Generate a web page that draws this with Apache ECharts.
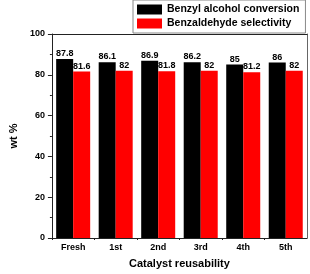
<!DOCTYPE html>
<html>
<head>
<meta charset="utf-8">
<script src="https://cdn.jsdelivr.net/npm/echarts@6/dist/echarts.min.js"></script>
<style>html,body{margin:0;padding:0;background:#fff;}#c{width:310px;height:274px;}</style>
</head>
<body>
<div id="c"></div>
<script>
const categories = ['Fresh', '1st', '2nd', '3rd', '4th', '5th'];
const conversion = [87.8, 86.1, 86.9, 86.2, 85, 86];
const selectivity = [81.6, 82, 81.8, 82, 81.2, 82];
const seriesNames = ['Benzyl alcohol conversion', 'Benzaldehyde selectivity'];
const yTicks = [0, 20, 40, 60, 80, 100];

const FONT = '"Liberation Sans", Arial, sans-serif';
const AXC = '#222';
const chart = echarts.init(document.getElementById('c'), null, {renderer: 'canvas'});
const labelStyle = {show: true, position: 'top', distance: 1, color: '#000', fontSize: 9, fontWeight: 'bold', fontFamily: FONT};
chart.setOption({
  animation: false,
  backgroundColor: '#fff',
  grid: {left: 32, right: 3, top: 34, bottom: 34},
  legend: {
    orient: 'vertical', left: 133, top: 0,
    padding: [4, 6, 4, 4], itemGap: 3, itemWidth: 25, itemHeight: 10, itemTextGap: 3,
    borderColor: '#888', borderWidth: 1, backgroundColor: '#fff',
    icon: 'rect',
    textStyle: {fontSize: 10.5, fontWeight: 'bold', fontFamily: FONT, color: '#000', lineHeight: 10},
    data: seriesNames
  },
  xAxis: [
    {
      type: 'category', data: categories, position: 'bottom',
      axisLine: {lineStyle: {color: AXC, width: 1}},
      axisTick: {alignWithLabel: true, length: 4, lineStyle: {color: AXC}},
      axisLabel: {fontSize: 9, fontWeight: 'bold', fontFamily: FONT, color: '#000', margin: 5},
      name: 'Catalyst reusability', nameLocation: 'middle', nameGap: 20,
      nameTextStyle: {fontSize: 11, fontWeight: 'bold', fontFamily: FONT, color: '#000'}
    },
    {
      type: 'category', data: categories, position: 'bottom',
      axisLine: {show: false},
      axisTick: {show: true, length: 2, lineStyle: {color: AXC}},
      axisLabel: {show: false}
    },
    {
      type: 'category', data: categories, position: 'top',
      axisLine: {show: true, lineStyle: {color: AXC, width: 1}},
      axisTick: {show: false}, axisLabel: {show: false}
    }
  ],
  yAxis: [
    {
      type: 'value', min: 0, max: 100, interval: 20,
      axisLine: {show: true, lineStyle: {color: AXC, width: 1}},
      axisTick: {show: true, length: 4, lineStyle: {color: AXC}},
      minorTick: {show: true, splitNumber: 2, length: 2, lineStyle: {color: AXC}},
      splitLine: {show: false},
      axisLabel: {fontSize: 9, fontWeight: 'bold', fontFamily: FONT, color: '#000', margin: 7,
        formatter: v => yTicks.includes(v) ? String(v) : ''},
      name: 'wt %', nameLocation: 'middle', nameGap: 24,
      nameTextStyle: {fontSize: 11, fontWeight: 'bold', fontFamily: FONT, color: '#000'}
    },
    {
      type: 'value', min: 0, max: 100, interval: 20, position: 'right',
      axisLine: {show: true, lineStyle: {color: '#666', width: 1}},
      axisTick: {show: false}, axisLabel: {show: false}, splitLine: {show: false}
    }
  ],
  series: [
    {name: seriesNames[0], type: 'bar', data: conversion, itemStyle: {color: '#000'},
     barGap: '0%', barCategoryGap: '20%', label: labelStyle},
    {name: seriesNames[1], type: 'bar', data: selectivity, itemStyle: {color: '#ff0000'},
     barGap: '0%', barCategoryGap: '20%', label: labelStyle}
  ]
});
</script>
</body>
</html>
